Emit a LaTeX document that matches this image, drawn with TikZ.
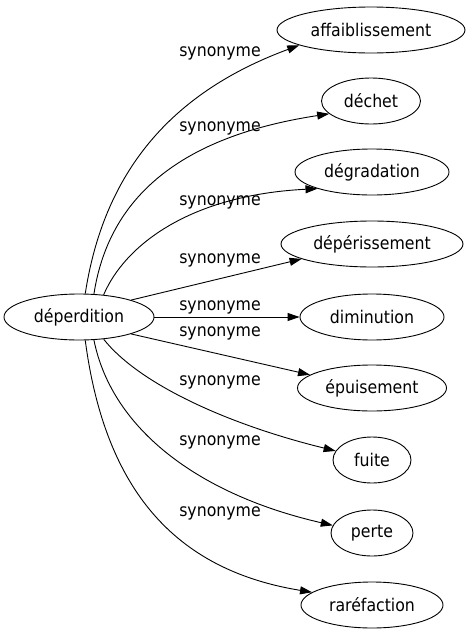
\documentclass[tikz,border=0pt]{standalone}
\usepackage{fontspec}
\setmainfont{DejaVu Sans Condensed}
\usetikzlibrary{shapes.geometric}
\usetikzlibrary{arrows.meta}

\tikzset{
  word/.style = {draw, ellipse, inner sep = 0, line width = .9pt,
    minimum height = 46pt, font = \fontsize{17.5}{20}\selectfont},
  rel/.style = {font = \fontsize{17.5}{20}\selectfont},
  syn/.style = {draw, line width = .9pt,
    -{Triangle[length = 12pt, width = 8pt]}}
}

\begin{document}
\begin{tikzpicture}[x = 1pt, y = -1pt]
  \useasboundingbox (0, 0) rectangle (471, 635);

  \node[word, minimum width = 150pt] (deperdition) at (79, 317) {déperdition};

  \node[word, minimum width = 188pt] (affaiblissement) at (371, 30) {affaiblissement};
  \node[word, minimum width = 99pt] (dechet) at (371, 101) {déchet};
  \node[word, minimum width = 154pt] (degradation) at (372, 172) {dégradation};
  \node[word, minimum width = 182pt] (deperissement) at (372, 244) {dépérissement};
  \node[word, minimum width = 144pt] (diminution) at (372, 317) {diminution};
  \node[word, minimum width = 149pt] (epuisement) at (372, 388) {épuisement};
  \node[word, minimum width = 78pt] (fuite) at (372, 460) {fuite};
  \node[word, minimum width = 82pt] (perte) at (372, 533) {perte};
  \node[word, minimum width = 142pt] (rarefaction) at (372, 605) {raréfaction};

  % edge labels
  \foreach \y in {53, 128, 202, 260, 307, 333, 382, 442, 513}
    \node[rel] (s\y) at (220, \y) {synonyme};

  \draw[syn] (deperdition.75) .. controls (105, 165) and (178, 90) ..
    (affaiblissement.192);
  \draw[syn] (deperdition.57) .. controls (110, 190) and (190, 135) ..
    (dechet.197);
  \draw[syn] (deperdition.42) .. controls (125, 245) and (190, 195) ..
    (degradation.197);
  \draw[syn] (deperdition.18) -- (deperissement.192);
  \draw[syn] (deperdition) -- (diminution);
  \draw[syn] (deperdition.-18) -- (epuisement.168);
  \draw[syn] (deperdition.-42) .. controls (140, 385) and (230, 425) ..
    (fuite.166);
  \draw[syn] (deperdition.-57) .. controls (112, 430) and (200, 495) ..
    (perte.169);
  \draw[syn] (deperdition.-75) .. controls (105, 490) and (175, 570) ..
    (rarefaction.168);
\end{tikzpicture}
\end{document}
